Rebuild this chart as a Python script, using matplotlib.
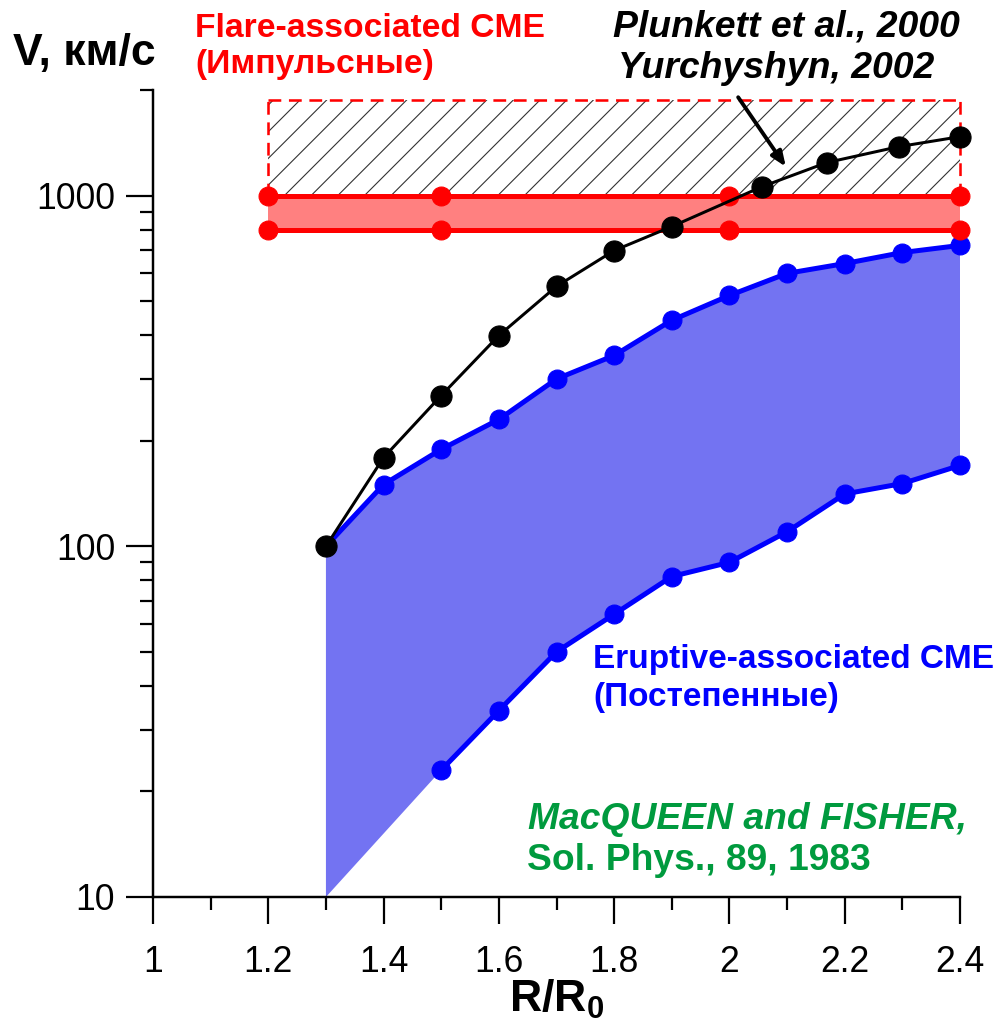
import numpy as np
import matplotlib
matplotlib.use("Agg")
import matplotlib.pyplot as plt
from matplotlib.ticker import FixedLocator, NullFormatter, LogLocator

plt.rcParams['font.family'] = ['Liberation Sans', 'DejaVu Sans']
plt.rcParams['mathtext.fontset'] = 'custom'
plt.rcParams['mathtext.rm'] = 'Liberation Sans'
plt.rcParams['mathtext.bf'] = 'Liberation Sans:bold'
plt.rcParams['hatch.linewidth'] = 1.0

# Plunkett et al. 2000 / Yurchyshyn 2002
r_plunkett = np.array([1.3, 1.4, 1.5, 1.6, 1.7, 1.8, 1.9, 2.057, 2.169, 2.294, 2.4])
v_plunkett = np.array([100, 179, 269, 399, 551, 697, 816, 1061, 1242, 1379, 1472])

# Eruptive-associated CME (upper / lower envelopes)
r_erupt_up = np.array([1.3, 1.4, 1.5, 1.6, 1.7, 1.8, 1.9, 2.0, 2.1, 2.2, 2.3, 2.4])
v_erupt_up = np.array([100, 150, 189, 230, 300, 350, 441, 519, 600, 640, 688, 721])
r_erupt_lo = np.array([1.5, 1.6, 1.7, 1.8, 1.9, 2.0, 2.1, 2.2, 2.3, 2.4])
v_erupt_lo = np.array([23, 34, 50, 64, 82, 90, 110, 141, 151, 170])
r_erupt_corner = 1.3
v_erupt_corner = 10

# Flare-associated CME band
r_flare = np.array([1.2, 1.5, 2.0, 2.4])
v_flare_hi = np.array([1000, 1000, 1000, 1000])
v_flare_lo = np.array([800, 800, 800, 800])
v_hatch_top = 1870

x_ticks = [1.0, 1.2, 1.4, 1.6, 1.8, 2.0, 2.2, 2.4]
x_ticklabels = ['1', '1.2', '1.4', '1.6', '1.8', '2', '2.2', '2.4']
y_ticks = [10, 100, 1000]
y_ticklabels = ['10', '100', '1000']

W, H = 1000, 1025
fig = plt.figure(figsize=(12.5, 12.8125), dpi=80)
ax = fig.add_axes([153 / W, 128 / H, (960 - 153) / W, (897 - 90) / H])
ax.set_yscale('log')
ax.set_xlim(1.0, 2.4)
ax.set_ylim(10, 2000)

# hatched region above the flare band
x0, x1 = r_flare[0], r_flare[-1]
ax.fill([x0, x1, x1, x0], [v_flare_hi[0], v_flare_hi[0], v_hatch_top, v_hatch_top],
        facecolor='none', edgecolor='#333333', hatch='/', linewidth=0, zorder=1)
dash = (0, (5, 3))
ax.plot([x0, x1], [v_hatch_top, v_hatch_top], color='red', lw=2.3, ls=dash, zorder=2, clip_on=False)
ax.plot([x0, x0], [v_flare_hi[0], v_hatch_top], color='red', lw=2.3, ls=dash, zorder=2)
ax.plot([x1, x1], [v_flare_hi[0], v_hatch_top], color='red', lw=2.3, ls=dash, zorder=2, clip_on=False)

# eruptive region
poly_x = np.concatenate([r_erupt_up, r_erupt_lo[::-1], [r_erupt_corner]])
poly_y = np.concatenate([v_erupt_up, v_erupt_lo[::-1], [v_erupt_corner]])
ax.fill(poly_x, poly_y, color='#7373f2', lw=0, zorder=2)
ax.plot(r_erupt_up, v_erupt_up, color='blue', lw=4.5, marker='o', ms=17, zorder=4, clip_on=False)
ax.plot(r_erupt_lo, v_erupt_lo, color='blue', lw=4.5, marker='o', ms=17, zorder=4, clip_on=False)

# flare band
ax.fill_between(r_flare, v_flare_lo, v_flare_hi, color='#ff8080', lw=0, zorder=3)
ax.plot(r_flare, v_flare_hi, color='red', lw=4.5, marker='o', ms=17, zorder=4, clip_on=False)
ax.plot(r_flare, v_flare_lo, color='red', lw=4.5, marker='o', ms=17, zorder=4, clip_on=False)

# Plunkett curve
ax.plot(r_plunkett, v_plunkett, color='black', lw=2.7, marker='o', ms=19, zorder=5, clip_on=False)

ax.annotate('', xy=(2.10, 1194), xytext=(2.013, 1930),
            arrowprops=dict(arrowstyle='-|>,head_length=1.1,head_width=0.45', color='black', lw=3.5),
            annotation_clip=False, zorder=6)

# axes styling
for s in ['top', 'right']:
    ax.spines[s].set_visible(False)
for s in ['left', 'bottom']:
    ax.spines[s].set_linewidth(2.2)
ax.xaxis.set_major_locator(FixedLocator(x_ticks))
ax.set_xticklabels(x_ticklabels)
ax.xaxis.set_minor_locator(FixedLocator(np.arange(1.1, 2.4, 0.2)))
ax.yaxis.set_major_locator(FixedLocator(y_ticks))
ax.set_yticklabels(y_ticklabels)
ax.yaxis.set_minor_locator(LogLocator(base=10, subs=np.arange(2, 10)))
ax.yaxis.set_minor_formatter(NullFormatter())
ax.tick_params(which='major', direction='out', length=24, width=2, labelsize=32)
ax.tick_params(axis='x', which='major', pad=19)
ax.tick_params(axis='y', which='major', pad=10)
ax.tick_params(which='minor', direction='out', length=12, width=2)

ax.set_xlabel(r'$\mathbf{R/R_0}$', fontsize=40, labelpad=-2)

def ftext(px, py, s, **kw):
    fig.text(px / W, 1 - py / H, s, va='baseline', ha='left', **kw)

ftext(13, 65, 'V, км/с', fontsize=40, fontweight='bold')
ftext(195, 37, 'Flare-associated CME', fontsize=30.3, fontweight='bold', color='red')
ftext(195, 73, '(Импульсные)', fontsize=30.3, fontweight='bold', color='red')
ftext(613, 37, 'Plunkett et al., 2000', fontsize=33.7, fontweight='bold', style='italic')
ftext(618, 78, 'Yurchyshyn, 2002', fontsize=33.7, fontweight='bold', style='italic')
ftext(593, 668, 'Eruptive-associated CME', fontsize=30, fontweight='bold', color='blue')
ftext(593, 706, '(Постепенные)', fontsize=30, fontweight='bold', color='blue')
ftext(528, 829, 'MacQUEEN and FISHER,', fontsize=33.5, fontweight='bold', style='italic', color='#009a3e')
ftext(527, 870, 'Sol. Phys., 89, 1983', fontsize=33.5, fontweight='bold', color='#009a3e')

fig.savefig('out.png', dpi=80)
